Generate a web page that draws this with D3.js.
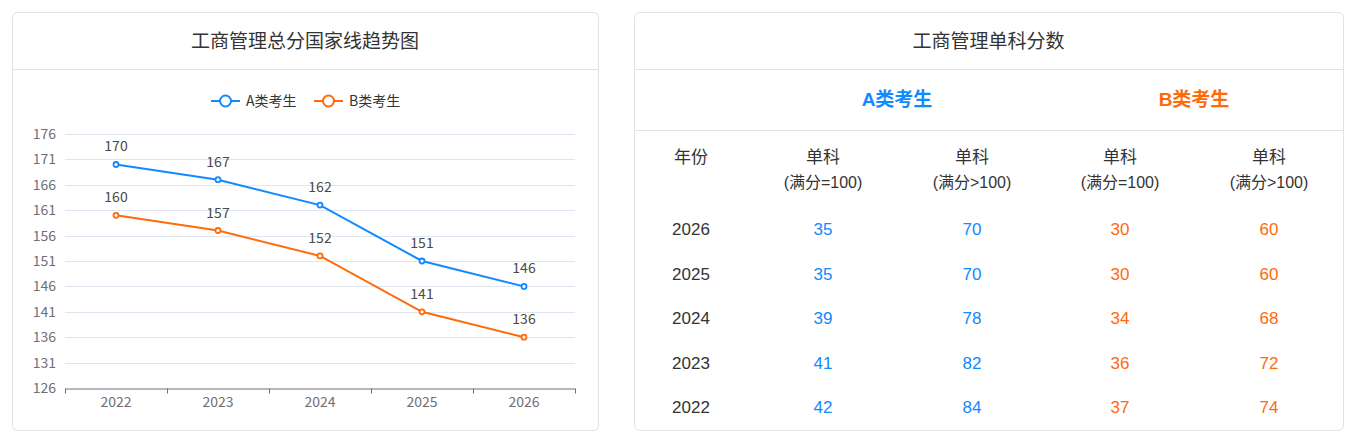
<!DOCTYPE html>
<html>
<head>
<meta charset="utf-8">
<script src="https://cdn.jsdelivr.net/npm/d3@7"></script>
<style>
	body { margin: 0; background: #fff; }
	svg { display: block; }
</style>
</head>
<body>
<div id="chart"></div>
<script>
// chart data
const years = ["2022", "2023", "2024", "2025", "2026"];
const seriesNames = ["A类考生", "B类考生"];
const seriesA = [170, 167, 162, 151, 146];
const seriesB = [160, 157, 152, 141, 136];
const yTicks = [126, 131, 136, 141, 146, 151, 156, 161, 166, 171, 176];

// table data
const tableYears = ["2026", "2025", "2024", "2023", "2022"];
const aEq100 = [35, 35, 39, 41, 42];
const aGt100 = [70, 70, 78, 82, 84];
const bEq100 = [30, 30, 34, 36, 37];
const bGt100 = [60, 60, 68, 72, 74];
const colHeads = ["单科", "单科", "单科", "单科"];
const colSubs = ["(满分=100)", "(满分>100)", "(满分=100)", "(满分>100)"];

const blue = "#1189ff";
const orange = "#ff6a0a";
const cjk = "'Noto Sans CJK SC', 'Noto Sans', sans-serif";
const arial = "'Liberation Sans', Arial, 'Noto Sans CJK SC', sans-serif";

const svg = d3.select("#chart")
	.append("svg")
	.attr("width", 1362)
	.attr("height", 437);

function card(x, w, title) {
	svg.append("rect")
		.attr("x", x + 0.5).attr("y", 12.5)
		.attr("width", w).attr("height", 418)
		.attr("rx", 5)
		.attr("fill", "#fff")
		.attr("stroke", "#e2e2e2");
	svg.append("line")
		.attr("x1", x).attr("x2", x + w)
		.attr("y1", 69.5).attr("y2", 69.5)
		.attr("stroke", "#e2e2e2");
	svg.append("text")
		.attr("x", x + w / 2).attr("y", 48)
		.attr("text-anchor", "middle")
		.attr("font-family", cjk)
		.attr("font-size", 19)
		.attr("fill", "#333")
		.text(title);
}

card(12, 586, "工商管理总分国家线趋势图");
card(634, 709, "工商管理单科分数");

// ---- line chart ----
const x = d3.scaleBand().domain(years).range([65, 575]);
const y = d3.scaleLinear().domain([126, 176]).range([388, 134]);

svg.append("g")
	.selectAll("line")
	.data(yTicks.slice(1))
	.enter()
	.append("line")
	.attr("x1", 65).attr("x2", 575)
	.attr("y1", (d) => Math.round(y(d)) + 0.5)
	.attr("y2", (d) => Math.round(y(d)) + 0.5)
	.attr("stroke", "#e0e6f1");

const yAxis = svg.append("g")
	.attr("transform", "translate(65,0)")
	.call(d3.axisLeft(y).tickValues(yTicks).tickSize(0).tickPadding(9));
yAxis.select(".domain").remove();
yAxis.selectAll("text")
	.attr("font-family", cjk)
	.attr("font-size", 14)
	.attr("fill", "#6e7079");

const xAxis = svg.append("g")
	.attr("transform", "translate(0,388.5)")
	.call(d3.axisBottom(x).tickSize(0).tickPadding(9));
xAxis.select(".domain").attr("stroke", "#6e7079");
xAxis.selectAll("text")
	.attr("font-family", cjk)
	.attr("font-size", 14)
	.attr("fill", "#6e7079");
xAxis.append("g")
	.selectAll("line")
	.data(years.concat(["end"]))
	.enter()
	.append("line")
	.attr("x1", (d, i) => Math.round(65 + i * x.step()) + 0.5)
	.attr("x2", (d, i) => Math.round(65 + i * x.step()) + 0.5)
	.attr("y1", 0).attr("y2", 5)
	.attr("stroke", "#6e7079");

const series = [
	{ name: seriesNames[0], values: seriesA, color: blue },
	{ name: seriesNames[1], values: seriesB, color: orange }
];
const cx = (d, i) => x(years[i]) + x.bandwidth() / 2;
const line = d3.line().x(cx).y((d) => y(d));

series.forEach((s) => {
	svg.append("path")
		.datum(s.values)
		.attr("fill", "none")
		.attr("stroke", s.color)
		.attr("stroke-width", 2)
		.attr("d", line);
	svg.append("g")
		.selectAll("circle")
		.data(s.values)
		.enter()
		.append("circle")
		.attr("cx", cx)
		.attr("cy", (d) => y(d))
		.attr("r", 2.5)
		.attr("fill", "#fff")
		.attr("stroke", s.color)
		.attr("stroke-width", 1.8);
	svg.append("g")
		.selectAll("text")
		.data(s.values)
		.enter()
		.append("text")
		.attr("x", cx)
		.attr("y", (d) => y(d) - 13)
		.attr("text-anchor", "middle")
		.attr("font-family", cjk)
		.attr("font-size", 14)
		.attr("fill", "#4a4a4a")
		.text((d) => d);
});

// legend
const legend = svg.append("g")
	.selectAll("g")
	.data(series)
	.enter()
	.append("g")
	.attr("transform", (d, i) => "translate(" + (211 + i * 103) + ",101)");
legend.append("line")
	.attr("x1", 0).attr("x2", 29)
	.attr("stroke", (d) => d.color)
	.attr("stroke-width", 2);
legend.append("circle")
	.attr("cx", 14.5).attr("r", 5.5)
	.attr("fill", "#fff")
	.attr("stroke", (d) => d.color)
	.attr("stroke-width", 2);
legend.append("text")
	.attr("x", 35).attr("dy", "0.36em")
	.attr("font-family", cjk)
	.attr("font-size", 14)
	.attr("fill", "#333")
	.text((d) => d.name);

// ---- table ----
svg.append("line")
	.attr("x1", 634).attr("x2", 1343)
	.attr("y1", 130.5).attr("y2", 130.5)
	.attr("stroke", "#e2e2e2");

const groups = [
	{ name: seriesNames[0], x: 897, color: blue },
	{ name: seriesNames[1], x: 1194, color: orange }
];
svg.append("g")
	.selectAll("text")
	.data(groups)
	.enter()
	.append("text")
	.attr("x", (d) => d.x).attr("y", 106)
	.attr("text-anchor", "middle")
	.attr("font-family", arial)
	.attr("font-size", 19)
	.attr("font-weight", "bold")
	.attr("fill", (d) => d.color)
	.text((d) => d.name);

const colX = d3.scaleOrdinal().domain(d3.range(5)).range([691, 823, 972, 1120, 1269]);
const rowY = d3.scalePoint().domain(tableYears).range([229, 407]);
const textOf = (sel) => sel
	.attr("text-anchor", "middle")
	.attr("dy", "0.36em")
	.attr("font-family", arial)
	.attr("font-size", 17);

textOf(svg.append("text")
	.attr("x", colX(0)).attr("y", 157))
	.attr("fill", "#333")
	.text("年份");
textOf(svg.append("g").selectAll("text").data(colHeads).enter().append("text")
	.attr("x", (d, i) => colX(i + 1)).attr("y", 157))
	.attr("fill", "#333")
	.text((d) => d);
textOf(svg.append("g").selectAll("text").data(colSubs).enter().append("text")
	.attr("x", (d, i) => colX(i + 1)).attr("y", 182))
	.attr("font-size", 16)
	.attr("fill", "#333")
	.text((d) => d);

const columns = [
	{ values: tableYears, color: "#333" },
	{ values: aEq100, color: blue },
	{ values: aGt100, color: blue },
	{ values: bEq100, color: orange },
	{ values: bGt100, color: orange }
];
columns.forEach((c, ci) => {
	textOf(svg.append("g").selectAll("text").data(c.values).enter().append("text")
		.attr("x", colX(ci))
		.attr("y", (d, i) => rowY(tableYears[i])))
		.attr("fill", c.color)
		.text((d) => d);
});
</script>
</body>
</html>
